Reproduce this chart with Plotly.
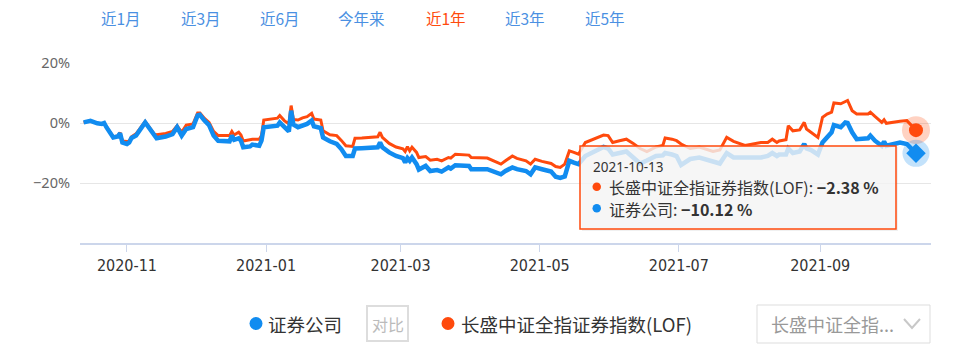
import plotly.graph_objects as go

# ---------------- data ----------------
dates = [
    "2020-10-13", "2020-10-16", "2020-10-19", "2020-10-21", "2020-10-22", "2020-10-23",
    "2020-10-26", "2020-10-28", "2020-10-29", "2020-10-30",
    "2020-11-01", "2020-11-02", "2020-11-03", "2020-11-05", "2020-11-09", "2020-11-11",
    "2020-11-13", "2020-11-14", "2020-11-18", "2020-11-21", "2020-11-23", "2020-11-25",
    "2020-11-27", "2020-11-30",
    "2020-12-02", "2020-12-03", "2020-12-05", "2020-12-07", "2020-12-09", "2020-12-11",
    "2020-12-16", "2020-12-17", "2020-12-18", "2020-12-20", "2020-12-21", "2020-12-22",
    "2020-12-25", "2020-12-26", "2020-12-29", "2020-12-30", "2020-12-31",
    "2021-01-03", "2021-01-06", "2021-01-07", "2021-01-09", "2021-01-11", "2021-01-12",
    "2021-01-13", "2021-01-15", "2021-01-17", "2021-01-19", "2021-01-21", "2021-01-22",
    "2021-01-25", "2021-01-26", "2021-01-29",
    "2021-02-01", "2021-02-03", "2021-02-05", "2021-02-08", "2021-02-09", "2021-02-12",
    "2021-02-19", "2021-02-20", "2021-02-21", "2021-02-24", "2021-02-27",
    "2021-03-02", "2021-03-03", "2021-03-04", "2021-03-05", "2021-03-06", "2021-03-08",
    "2021-03-09", "2021-03-12", "2021-03-14", "2021-03-17", "2021-03-19", "2021-03-22",
    "2021-03-23", "2021-03-25", "2021-03-31",
    "2021-04-01", "2021-04-08", "2021-04-12", "2021-04-14", "2021-04-16", "2021-04-19",
    "2021-04-21", "2021-04-25", "2021-04-27", "2021-04-29",
    "2021-05-02", "2021-05-06", "2021-05-08", "2021-05-10", "2021-05-12", "2021-05-14",
    "2021-05-16", "2021-05-18", "2021-05-21", "2021-05-26", "2021-05-29", "2021-05-31",
    "2021-06-02", "2021-06-05", "2021-06-08", "2021-06-11", "2021-06-14", "2021-06-17",
    "2021-06-21", "2021-06-24", "2021-06-25", "2021-06-28", "2021-06-30",
    "2021-07-02", "2021-07-06", "2021-07-10", "2021-07-16", "2021-07-19", "2021-07-22",
    "2021-07-25", "2021-07-30",
    "2021-08-06", "2021-08-09", "2021-08-11", "2021-08-13", "2021-08-14", "2021-08-17",
    "2021-08-18", "2021-08-20", "2021-08-23", "2021-08-25", "2021-08-26", "2021-08-28",
    "2021-08-31",
    "2021-09-02", "2021-09-04", "2021-09-06", "2021-09-07", "2021-09-10", "2021-09-12",
    "2021-09-13", "2021-09-15", "2021-09-17", "2021-09-22", "2021-09-23", "2021-09-25",
    "2021-09-28", "2021-09-29", "2021-09-30",
    "2021-10-06", "2021-10-09", "2021-10-13",
]

# 证券公司 (%)
broker = [
    0.2, 0.7, -0.1, -0.3, 0.0, -1.4,
    -4.8, -4.5, -3.4, -6.5,
    -7.0, -6.5, -5.0, -4.2, 0.2, -2.0,
    -4.5, -5.1, -4.5, -3.7, -1.4, -4.2,
    -2.0, -1.4,
    2.5, 2.7, 0.8, -0.7, -4.2, -5.9,
    -6.1, -4.2, -5.6, -5.1, -5.9, -8.1,
    -7.8, -7.2, -7.6, -5.9, -1.4,
    -1.1, -0.9, 0.2, -1.4, -2.8, 4.1,
    -0.5, -1.4, -0.9, -0.3, 0.8, -1.1,
    -1.7, -4.8, -6.1,
    -7.0, -8.7, -11.0, -11.0, -8.5, -8.4,
    -8.1, -6.5, -8.1, -9.8, -11.0,
    -11.7, -13.2, -11.7, -12.6, -11.5, -13.7,
    -15.5, -14.3, -16.0, -15.7, -16.2, -14.8,
    -15.2, -14.1, -14.3,
    -15.4, -15.4, -16.5, -17.1, -16.0, -14.8,
    -15.4, -16.0, -17.1, -14.8,
    -15.4, -16.2, -17.9, -18.3, -17.8, -12.6,
    -13.2, -13.7, -11.0, -9.0, -8.0, -8.5,
    -10.5, -10.0, -9.5, -11.5, -13.5, -12.5,
    -11.0, -10.8, -10.0, -10.5, -11.0,
    -14.0, -12.0, -11.5, -13.0, -13.5, -10.0,
    -11.5, -11.5,
    -11.5, -11.0, -10.0, -11.0, -10.5, -10.5,
    -8.5, -10.0, -9.5, -7.0, -8.5, -9.0,
    -10.5,
    -6.5, -4.8, -3.1, -0.7, -1.4, 0.2,
    0.0, -3.1, -5.4, -5.1, -4.2, -5.9,
    -7.6, -6.2, -7.6,
    -6.5, -7.0, -10.12,
]

# 长盛中证全指证券指数(LOF) (%)
fund = [
    0.2, 0.7, -0.1, -0.3, 0.0, -1.3,
    -4.6, -4.3, -3.2, -6.0,
    -6.2, -6.0, -4.6, -3.6, 0.5, -1.5,
    -3.7, -3.9, -3.5, -2.8, -0.9, -3.1,
    -0.7, -0.3,
    3.3, 3.3, 1.5, 0.2, -2.8, -4.2,
    -4.2, -2.8, -4.0, -3.1, -4.0, -6.0,
    -5.7, -5.4, -5.4, -4.2, 1.0,
    1.3, 1.6, 2.5, 0.8, -0.3, 5.8,
    1.2, 1.0, 1.7, 2.1, 3.2, 1.3,
    1.0, -2.6, -3.9,
    -4.2, -5.8, -7.6, -7.8, -5.1, -5.0,
    -4.6, -3.1, -4.8, -6.8, -8.0,
    -8.6, -9.5, -7.9, -9.3, -8.1, -9.8,
    -11.5, -11.2, -12.4, -12.1, -12.6, -11.5,
    -11.7, -10.4, -10.7,
    -11.5, -11.7, -13.2, -13.7, -12.6, -11.0,
    -11.8, -12.6, -13.7, -12.1,
    -12.8, -13.5, -14.5, -14.8, -13.7, -9.3,
    -9.8, -10.4, -6.5, -5.0, -4.0, -4.2,
    -6.5, -5.9, -5.4, -6.8, -8.5, -9.5,
    -8.0, -7.5, -5.0, -5.4, -5.9,
    -7.0, -8.5, -8.0, -9.5, -9.0, -4.8,
    -6.1, -7.5,
    -6.5, -6.5, -5.4, -6.5, -6.0, -5.6,
    -0.9, -2.6, -2.3, 0.2, -2.0, -3.1,
    -4.8,
    1.9, 3.0, 3.6, 6.7, 6.4, 7.1,
    7.5, 4.1, 3.0, 3.0, 3.6, 2.2,
    0.2, 1.1, -0.1,
    0.6, 0.8, -2.38,
]

tick_dates = ["2020-11-01", "2021-01-01", "2021-03-01", "2021-05-01", "2021-07-01", "2021-09-01"]
tick_text = ["2020-11", "2021-01", "2021-03", "2021-05", "2021-07", "2021-09"]
y_ticks = [-20, 0, 20]
y_tick_text = ["\u221220%", "0%", "20%"]

period_buttons = ["近1月", "近3月", "近6月", "今年来", "近1年", "近3年", "近5年"]
selected_period = "近1年"
name_broker = "证券公司"
name_fund = "长盛中证全指证券指数(LOF)"
tip_date = "2021-10-13"

# ---------------- styling ----------------
BLUE = "#118cf0"
RED = "#ff4a0d"
BTN_BLUE = "#4a90e2"
CJK = "Noto Sans CJK SC"

W, H = 958, 353
L, R, T, B = 80, 27, 63, 110
PW, PH = W - L - R, H - T - B


def px(x):
    return (x - L) / PW


def py(y):
    return (H - B - y) / PH


fig = go.Figure()
fig.add_trace(go.Scatter(x=dates, y=fund, mode="lines", name=name_fund,
                         line=dict(color=RED, width=3), hoverinfo="skip"))
fig.add_trace(go.Scatter(x=dates, y=broker, mode="lines", name=name_broker,
                         line=dict(color=BLUE, width=4.5), hoverinfo="skip"))
# highlighted end points
fig.add_trace(go.Scatter(x=[dates[-1]], y=[fund[-1]], mode="markers",
                         marker=dict(size=28, color="rgba(255,74,13,0.25)", line_width=0),
                         hoverinfo="skip", cliponaxis=False))
fig.add_trace(go.Scatter(x=[dates[-1]], y=[fund[-1]], mode="markers",
                         marker=dict(size=14, color=RED, line_width=0),
                         hoverinfo="skip", cliponaxis=False))
fig.add_trace(go.Scatter(x=[dates[-1]], y=[broker[-1]], mode="markers",
                         marker=dict(size=27, color="rgba(17,140,240,0.25)", line_width=0),
                         hoverinfo="skip", cliponaxis=False))
fig.add_trace(go.Scatter(x=[dates[-1]], y=[broker[-1]], mode="markers",
                         marker=dict(size=15, symbol="diamond", color=BLUE, line_width=0),
                         hoverinfo="skip", cliponaxis=False))

shapes = []
annotations = []

# period buttons
btn_x = [121, 201, 280, 361, 446, 525, 605]
for label, bx in zip(period_buttons, btn_x):
    annotations.append(dict(x=px(bx), y=py(18), xref="paper", yref="paper", text=label,
                            showarrow=False, xanchor="center", yanchor="middle",
                            font=dict(family=CJK, size=15.5,
                                      color=RED if label == selected_period else BTN_BLUE)))

# tooltip box
shapes.append(dict(type="rect", xref="paper", yref="paper", layer="above",
                   x0=px(582), x1=px(898), y0=py(147), y1=py(231),
                   fillcolor="rgba(0,0,0,0.06)", line=dict(width=0)))
shapes.append(dict(type="rect", xref="paper", yref="paper", layer="above",
                   x0=px(580), x1=px(896), y0=py(146), y1=py(229),
                   fillcolor="rgba(248,248,248,0.8)", line=dict(color=RED, width=1.5)))
annotations.append(dict(x=px(591), y=py(167), xref="paper", yref="paper", text=tip_date,
                        showarrow=False, xanchor="left", yanchor="middle",
                        font=dict(family="Noto Sans", size=13.5, color="#333")))
shapes.append(dict(type="circle", xref="paper", yref="paper", layer="above",
                   x0=px(592.5), x1=px(601), y0=py(182.5), y1=py(191),
                   fillcolor=RED, line=dict(width=0)))
shapes.append(dict(type="circle", xref="paper", yref="paper", layer="above",
                   x0=px(592.5), x1=px(601), y0=py(204), y1=py(212.5),
                   fillcolor=BLUE, line=dict(width=0)))
annotations.append(dict(x=px(607), y=py(187), xref="paper", yref="paper",
                        text=f"{name_fund}: <b>\u2212{abs(fund[-1]):.2f} %</b>",
                        showarrow=False, xanchor="left", yanchor="middle",
                        font=dict(family=CJK, size=16, color="#333")))
annotations.append(dict(x=px(607), y=py(208.5), xref="paper", yref="paper",
                        text=f"{name_broker}: <b>\u2212{abs(broker[-1]):.2f} %</b>",
                        showarrow=False, xanchor="left", yanchor="middle",
                        font=dict(family=CJK, size=16, color="#333")))

# bottom legend
shapes.append(dict(type="circle", xref="paper", yref="paper",
                   x0=px(249.5), x1=px(262.5), y0=py(317), y1=py(330),
                   fillcolor=BLUE, line=dict(width=0)))
annotations.append(dict(x=px(266), y=py(323.5), xref="paper", yref="paper", text=name_broker,
                        showarrow=False, xanchor="left", yanchor="middle",
                        font=dict(family=CJK, size=18.5, color="#333")))
shapes.append(dict(type="rect", xref="paper", yref="paper",
                   x0=px(367), x1=px(408), y0=py(306), y1=py(341),
                   fillcolor="white", line=dict(color="#dddddd", width=2)))
annotations.append(dict(x=px(387.5), y=py(323.5), xref="paper", yref="paper", text="对比",
                        showarrow=False, xanchor="center", yanchor="middle",
                        font=dict(family=CJK, size=16, color="#bbbbbb")))
shapes.append(dict(type="circle", xref="paper", yref="paper",
                   x0=px(441.5), x1=px(454.5), y0=py(317), y1=py(330),
                   fillcolor=RED, line=dict(width=0)))
annotations.append(dict(x=px(459), y=py(323.5), xref="paper", yref="paper", text=name_fund,
                        showarrow=False, xanchor="left", yanchor="middle",
                        font=dict(family=CJK, size=18.5, color="#333")))

# dropdown
shapes.append(dict(type="rect", xref="paper", yref="paper",
                   x0=px(757), x1=px(930), y0=py(305), y1=py(343),
                   fillcolor="white", line=dict(color="#dddddd", width=1)))
annotations.append(dict(x=px(769), y=py(324), xref="paper", yref="paper", text="长盛中证全指...",
                        showarrow=False, xanchor="left", yanchor="middle",
                        font=dict(family=CJK, size=18, color="#999999")))
shapes.append(dict(type="path", xref="paper", yref="paper",
                   path=f"M {px(904)},{py(319)} L {px(912)},{py(328)} L {px(920)},{py(319)}",
                   line=dict(color="#c8c8c8", width=2)))

fig.update_layout(
    width=W, height=H,
    margin=dict(l=L, r=R, t=T, b=B, pad=0),
    paper_bgcolor="white", plot_bgcolor="white",
    showlegend=False,
    shapes=shapes, annotations=annotations,
    xaxis=dict(type="date", range=["2020-10-11 10:00", "2021-10-19 14:00"],
               tickvals=tick_dates, ticktext=tick_text,
               ticks="outside", ticklen=7, tickcolor="#ccd6eb", tickwidth=1,
               showline=True, linecolor="#ccd6eb", linewidth=2,
               showgrid=False, zeroline=False,
               tickfont=dict(family="Liberation Sans Narrow, DejaVu Sans Condensed", size=16,
                             color="#333")),
    yaxis=dict(range=[-40, 20], tickvals=y_ticks, ticktext=y_tick_text,
               showgrid=True, gridcolor="#e6e6e6", gridwidth=1,
               zeroline=False, showline=False, ticks="",
               ticklabelstandoff=9,
               tickfont=dict(family="Noto Sans", size=14.5, color="#666")),
)

fig.write_html("out.html")
